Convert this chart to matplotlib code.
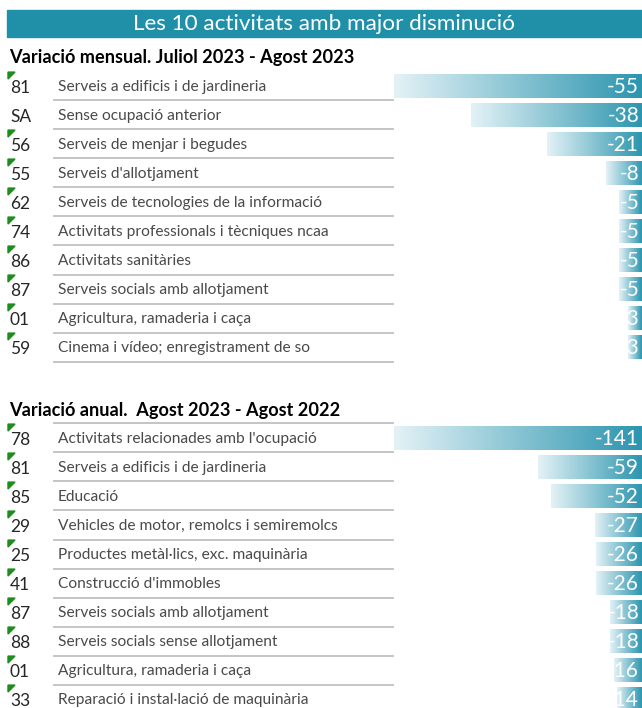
import matplotlib
matplotlib.use('Agg')
import matplotlib.pyplot as plt
import numpy as np
from matplotlib import transforms
from matplotlib.colors import LinearSegmentedColormap
from matplotlib.patches import Rectangle, Polygon
from matplotlib.lines import Line2D

plt.rcParams['font.family'] = ['Lato', 'DejaVu Sans']

title = "Les 10 activitats amb major disminució"

monthly_title = "Variació mensual. Juliol 2023 - Agost 2023"
monthly_codes = ['81', 'SA', '56', '55', '62', '74', '86', '87', '01', '59']
monthly_labels = ["Serveis a edificis i de jardineria",
                  "Sense ocupació anterior",
                  "Serveis de menjar i begudes",
                  "Serveis d'allotjament",
                  "Serveis de tecnologies de la informació",
                  "Activitats professionals i tècniques ncaa",
                  "Activitats sanitàries",
                  "Serveis socials amb allotjament",
                  "Agricultura, ramaderia i caça",
                  "Cinema i vídeo; enregistrament de so"]
monthly_values = [-55, -38, -21, -8, -5, -5, -5, -5, -3, -3]

annual_title = "Variació anual.  Agost 2023 - Agost 2022"
annual_codes = ['78', '81', '85', '29', '25', '41', '87', '88', '01', '33']
annual_labels = ["Activitats relacionades amb l'ocupació",
                 "Serveis a edificis i de jardineria",
                 "Educació",
                 "Vehicles de motor, remolcs i semiremolcs",
                 "Productes metàl·lics, exc. maquinària",
                 "Construcció d'immobles",
                 "Serveis socials amb allotjament",
                 "Serveis socials sense allotjament",
                 "Agricultura, ramaderia i caça",
                 "Reparació i instal·lació de maquinària"]
annual_values = [-141, -59, -52, -27, -26, -26, -18, -18, -16, -14]

W, H = 642, 708
fig = plt.figure(figsize=(W / 100, H / 100), dpi=100)

teal = '#1f90a8'
cmap = LinearSegmentedColormap.from_list('bar', ['#e4f2f6', '#2c95af'])
grad = np.linspace(0, 1, 256).reshape(1, -1)

# title band
fig.patches.append(Rectangle((7 / W, 1 - 37 / H), 635 / W, 27 / H,
                             transform=fig.transFigure, color=teal, zorder=0))
fig.text(324 / W, 1 - 23.5 / H, title, color='white', fontsize=16.2,
         ha='center', va='center')


def draw_table(sub_title, sub_y, first_row_y, codes, labels, values, lines_below):
    # axes for the bar area, rows spaced 29 px
    top = first_row_y - 14.5
    ax = fig.add_axes([394 / W, 1 - (top + 290) / H, 248 / W, 290 / H])
    ax.axis('off')

    fig.text(9 / W, 1 - sub_y / H, sub_title, fontsize=13.1, fontweight='bold',
             color='black', ha='left', va='center')

    tr = transforms.blended_transform_factory(fig.transFigure, ax.transData)
    pad = 0.012 * min(values)
    for i, (code, label, v) in enumerate(zip(codes, labels, values)):
        # data bar with gradient
        bar = Rectangle((v, i - 0.41), -v, 0.82, facecolor='none', edgecolor='none')
        ax.add_patch(bar)
        im = ax.imshow(grad, extent=[v, 0, i + 0.41, i - 0.41], cmap=cmap,
                       aspect='auto', interpolation='bilinear')
        im.set_clip_path(bar)
        t = ax.text(pad, i + 0.04, str(v), color='white',
                    fontsize=15, ha='right', va='center')
        t.set_clip_path(bar)

        ax.text(10 / W, i + 0.08, code, transform=tr, fontsize=12.5, color='#262626',
                ha='left', va='center', clip_on=False)
        ax.text(58 / W, i + 0.02, label, transform=tr, fontsize=11.2, color='#4a4a4a',
                ha='left', va='center', clip_on=False)
        if code.isdigit():
            tri = Polygon([[8 / W, i - 0.48], [15 / W, i - 0.48], [8 / W, i - 0.24]],
                          closed=True, transform=tr, color='#1e8c1e', clip_on=False)
            ax.add_patch(tri)
        ly = i + 0.5 if lines_below else i - 0.5
        ax.add_line(Line2D([54 / W, 393 / W], [ly, ly], transform=tr, color='#bfbfbf',
                           linewidth=1.3, clip_on=False))
    ax.set_xlim(min(values), 0)
    ax.set_ylim(9.5, -0.5)


draw_table(monthly_title, 58, 86, monthly_codes, monthly_labels, monthly_values, True)
draw_table(annual_title, 410, 438, annual_codes, annual_labels, annual_values, False)

fig.savefig('out.png', dpi=100)
